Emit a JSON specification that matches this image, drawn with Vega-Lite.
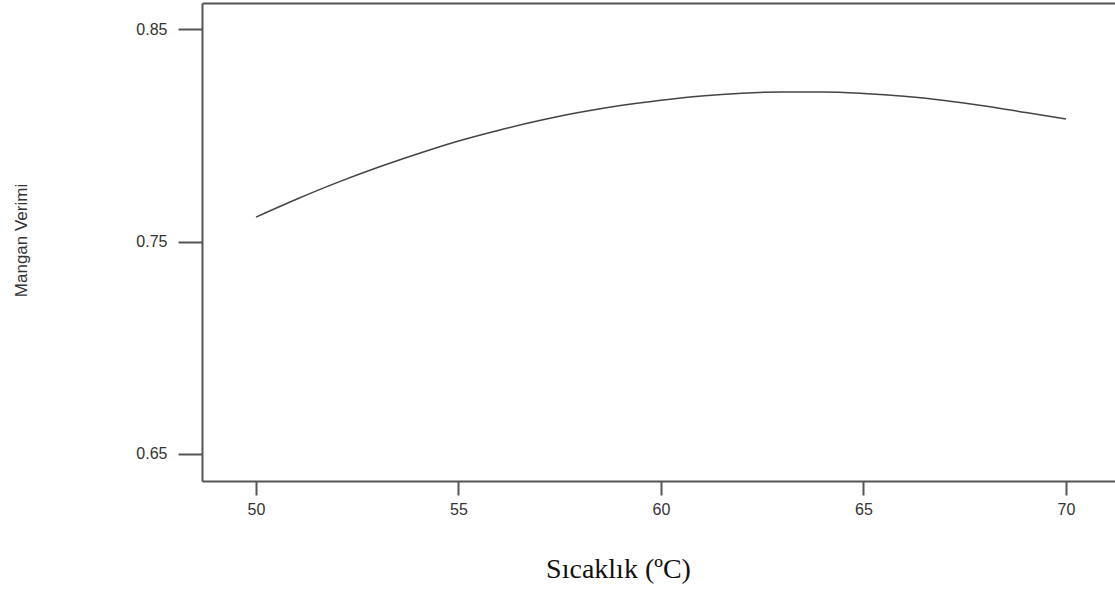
{
  "$schema": "https://vega.github.io/schema/vega-lite/v6.json",
  "width": 913,
  "height": 478,
  "autosize": {"type": "none"},
  "padding": {"left": 202, "top": 3, "right": 0, "bottom": 109},
  "background": "white",
  "config": {
    "view": {"stroke": null},
    "axis": {"grid": false}
  },
  "data": {
    "values": [
      {"t": 50, "v": 0.7615},
      {"t": 51, "v": 0.7699},
      {"t": 52, "v": 0.7777},
      {"t": 53, "v": 0.7848},
      {"t": 54, "v": 0.7913},
      {"t": 55, "v": 0.7973},
      {"t": 56, "v": 0.8024},
      {"t": 57, "v": 0.8069},
      {"t": 58, "v": 0.8108},
      {"t": 59, "v": 0.8140},
      {"t": 60, "v": 0.8165},
      {"t": 61, "v": 0.8185},
      {"t": 62, "v": 0.8198},
      {"t": 63, "v": 0.8204},
      {"t": 64, "v": 0.8204},
      {"t": 65, "v": 0.8197},
      {"t": 66, "v": 0.8184},
      {"t": 67, "v": 0.8164},
      {"t": 68, "v": 0.8138},
      {"t": 69, "v": 0.8107},
      {"t": 70, "v": 0.8076}
    ]
  },
  "encoding": {
    "y": {
      "field": "v",
      "type": "quantitative",
      "scale": {"domain": [0.63729, 0.86224], "nice": false, "zero": false},
      "axis": {
        "values": [0.65, 0.75, 0.85],
        "format": ".2f",
        "title": "Mangan Verimi",
        "titleFont": "Liberation Sans",
        "titleFontSize": 17,
        "titleFontWeight": "normal",
        "titleColor": "#333",
        "titleAngle": -90,
        "titleX": -181,
        "titleY": 237,
        "titleAlign": "center",
        "titleBaseline": "middle",
        "labelFont": "Liberation Sans",
        "labelFontSize": 16,
        "labelColor": "#333",
        "labelPadding": 11,
        "tickSize": 24,
        "tickColor": "#555",
        "tickWidth": 2,
        "domainColor": "#555",
        "domainWidth": 2
      }
    }
  },
  "layer": [
    {
      "mark": {"type": "line", "color": "#444", "strokeWidth": 1.5, "interpolate": "monotone"},
      "encoding": {
        "x": {
          "field": "t",
          "type": "quantitative",
          "scale": {"domain": [48.6667, 71.21], "nice": false, "zero": false},
          "axis": {
            "orient": "bottom",
            "values": [50, 55, 60, 65, 70],
            "title": "Sıcaklık (ºC)",
            "titleFont": "Liberation Serif",
            "titleFontSize": 28,
            "titleFontWeight": "normal",
            "titleColor": "#111",
            "titleX": 416,
            "titleY": 96,
            "titleAlign": "center",
            "titleBaseline": "alphabetic",
            "labelFont": "Liberation Sans",
            "labelFontSize": 16,
            "labelColor": "#333",
            "labelPadding": 6,
            "tickSize": 14,
            "tickColor": "#555",
            "tickWidth": 2,
            "domainColor": "#555",
            "domainWidth": 2
          }
        }
      }
    },
    {
      "mark": {"type": "line", "opacity": 0},
      "encoding": {
        "x": {
          "field": "t",
          "type": "quantitative",
          "scale": {"domain": [48.6667, 71.21], "nice": false, "zero": false},
          "axis": {
            "orient": "top",
            "labels": false,
            "ticks": false,
            "title": null,
            "domainColor": "#555",
            "domainWidth": 2
          }
        }
      }
    }
  ],
  "resolve": {"axis": {"x": "independent"}}
}
